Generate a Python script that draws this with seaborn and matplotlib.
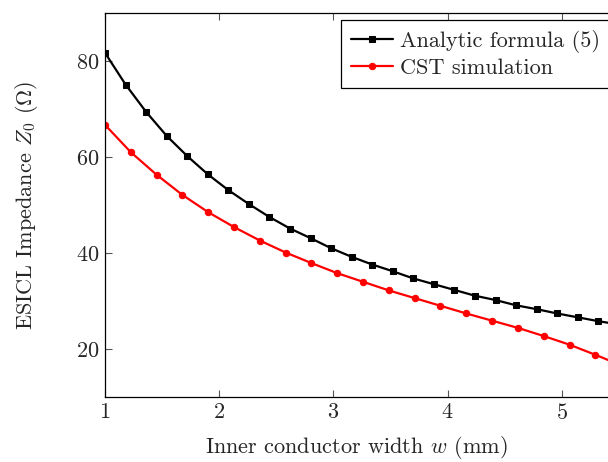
import numpy as np
import pandas as pd
import seaborn as sns
import matplotlib.pyplot as plt

# values
analytic_w = [1.00, 1.18, 1.36, 1.54, 1.72, 1.90, 2.08, 2.26, 2.44, 2.62, 2.80, 2.98, 3.16,
              3.34, 3.52, 3.70, 3.88, 4.06, 4.24, 4.42, 4.60, 4.78, 4.96, 5.14, 5.32, 5.50]
analytic_z = [81.7, 75.1, 69.4, 64.4, 60.2, 56.4, 53.1, 50.2, 47.5, 45.1, 43.1, 41.0, 39.2,
              37.6, 36.2, 34.7, 33.5, 32.3, 31.1, 30.2, 29.1, 28.3, 27.4, 26.6, 25.8, 25.1]

cst_w = [1.000, 1.226, 1.452, 1.678, 1.904, 2.130, 2.356, 2.582, 2.808, 3.034, 3.260,
         3.486, 3.712, 3.938, 4.164, 4.390, 4.616, 4.842, 5.068, 5.294, 5.520]
cst_z = [66.7, 61.0, 56.3, 52.1, 48.5, 45.4, 42.6, 40.1, 37.9, 35.8, 34.0,
         32.2, 30.6, 29.0, 27.4, 25.9, 24.4, 22.7, 20.9, 18.8, 16.6]

x_ticks = [1, 2, 3, 4, 5]
y_ticks = [20, 40, 60, 80]

sns.set_style('ticks')
plt.rcParams['font.family'] = ['cmr10', 'DejaVu Serif']
plt.rcParams['mathtext.fontset'] = 'cm'
plt.rcParams['axes.formatter.use_mathtext'] = True
plt.rcParams['axes.unicode_minus'] = False

W, H = 608, 462
fs = 16
fig = plt.figure(figsize=(W / 100, H / 100), dpi=100)
ax = fig.add_axes([105 / W, (H - 397) / H, (W - 105) / W, (397 - 13) / H])

df_a = pd.DataFrame({'w': analytic_w, 'z': analytic_z})
df_c = pd.DataFrame({'w': cst_w, 'z': cst_z})

sns.lineplot(data=df_a, x='w', y='z', ax=ax, color='black', lw=1.6, marker='s',
             markersize=4.8, markeredgecolor='black', sort=False, label='Analytic formula (5)')
sns.lineplot(data=df_c, x='w', y='z', ax=ax, color='red', lw=1.6, marker='o',
             markersize=4.6, markeredgecolor='red', sort=False, label='CST simulation')

ax.set_xlim(1, 5.405)
ax.set_ylim(10, 90)
ax.set_xticks(x_ticks)
ax.set_yticks(y_ticks)
ax.set_xlabel('Inner conductor width $w$ (mm)', fontsize=fs, labelpad=8)
ax.set_ylabel(r'ESICL Impedance $Z_0$ ($\Omega$)', fontsize=fs, labelpad=26)
ax.tick_params(direction='in', length=5, width=0.8, top=True, right=False,
               labelsize=fs, color='#555555', pad=4)
ax.spines['right'].set_visible(False)
for s in ['left', 'bottom', 'top']:
    ax.spines[s].set_linewidth(0.9)
    ax.spines[s].set_color('black')

leg = ax.legend(loc='upper left', bbox_to_anchor=(341 / W, 1 - 20 / H),
                bbox_transform=fig.transFigure, fontsize=fs, frameon=True,
                fancybox=False, edgecolor='black', framealpha=1, borderpad=0.45,
                handlelength=1.9, handletextpad=0.3, labelspacing=0.25,
                borderaxespad=0, numpoints=1)
leg.get_frame().set_linewidth(0.9)

fig.savefig('out.png', dpi=100)
